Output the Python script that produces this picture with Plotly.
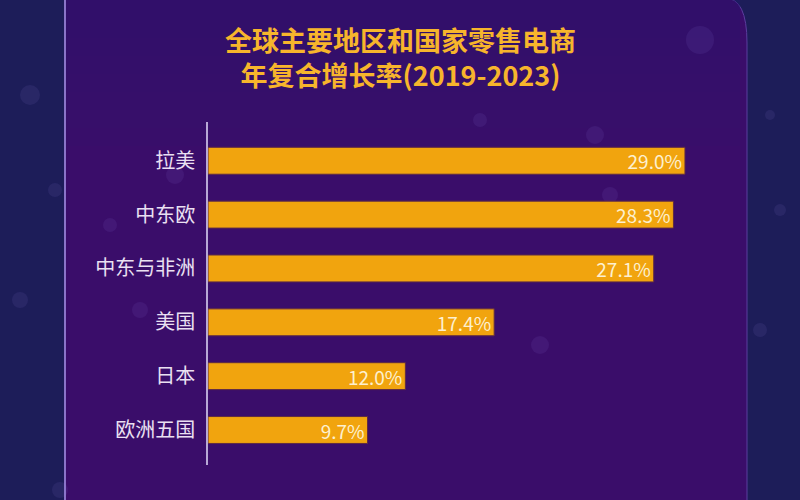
import plotly.graph_objects as go

categories = ["拉美", "中东欧", "中东与非洲", "美国", "日本", "欧洲五国"]
values = [29.0, 28.3, 27.1, 17.4, 12.0, 9.7]
labels = ["29.0%", "28.3%", "27.1%", "17.4%", "12.0%", "9.7%"]
title_lines = ["全球主要地区和国家零售电商", "年复合增长率(2019-2023)"]

W, H = 800, 500
L, R, T, B = 208, 55, 122, 35
pw, ph = W - L - R, H - T - B

def px(x):
    return (x - L) / pw

def py(y):
    return (H - B - y) / ph

fig = go.Figure()
fig.add_trace(go.Bar(
    y=categories, x=values, orientation="h",
    marker=dict(color="#f1a40e", line=dict(color="#5e2a45", width=1)),
    width=0.5,
    text=labels, textposition="inside", insidetextanchor="end",
    constraintext="none",
    textfont=dict(color="#fdf0cf", size=19, family="Noto Sans CJK SC"),
    cliponaxis=False, hoverinfo="skip",
))

shapes = []
# panel with rounded top-right corner
l, r, t, b = px(65), px(747), py(-2), py(502)
rx, ry = 22 / pw, 45 / ph
shapes.append(dict(type="path", xref="paper", yref="paper", layer="below",
    path=f"M {l},{b} L {l},{t} L {r-rx},{t} Q {r},{t} {r},{t-ry} L {r},{b} Z",
    fillcolor="#3a0d6a", line=dict(color="#5b3e9e", width=1)))
# top haze (soft gradient from stacked bands)
for i in range(8):
    shapes.append(dict(type="rect", xref="paper", yref="paper", layer="below",
        x0=px(66), x1=px(740), y0=py(20 + i * 18), y1=py(0),
        fillcolor="rgba(45,35,115,0.07)", line=dict(width=0)))
# left border line
shapes.append(dict(type="line", xref="paper", yref="paper", layer="below",
    x0=px(65), x1=px(65), y0=py(0), y1=py(500),
    line=dict(color="#8a74c8", width=2)))
# faint bokeh
bokeh = [(30, 95, 10), (20, 300, 8), (55, 190, 7), (175, 175, 9), (110, 225, 7),
         (595, 135, 9), (610, 195, 8), (540, 345, 9), (480, 120, 7), (770, 115, 5),
         (780, 210, 6), (760, 330, 7), (700, 40, 14), (140, 310, 8), (60, 490, 8)]
for cx, cy, rr in bokeh:
    shapes.append(dict(type="circle", xref="paper", yref="paper", layer="below",
        x0=px(cx - rr), x1=px(cx + rr), y0=py(cy + rr), y1=py(cy - rr),
        fillcolor="rgba(150,130,230,0.10)", line=dict(width=0)))

annotations = [dict(text="<b>" + "<br>".join(title_lines) + "</b>",
    xref="paper", yref="paper", x=px(400), y=py(57),
    xanchor="center", yanchor="middle", align="center", showarrow=False,
    font=dict(size=27, color="#f7b52c", family="Noto Sans CJK SC"))]

fig.update_layout(
    width=W, height=H,
    margin=dict(l=L, r=R, t=T, b=B),
    paper_bgcolor="#1d1d59",
    plot_bgcolor="rgba(0,0,0,0)",
    shapes=shapes,
    annotations=annotations,
    showlegend=False,
    font=dict(family="Noto Sans CJK SC"),
    xaxis=dict(range=[0, 32.65], visible=False, fixedrange=True),
    yaxis=dict(type="category", categoryorder="array", categoryarray=categories,
               range=[5.65, -0.72], showline=True, linecolor="#b8a8d6", linewidth=1.5,
               showgrid=False, zeroline=False, ticks="", ticklabelstandoff=7,
               tickfont=dict(size=20, color="#eae0f2", family="Noto Sans CJK SC")),
)

fig.write_html("out.html", config={"displayModeBar": False},
               post_script="document.body.style.margin='0';")
